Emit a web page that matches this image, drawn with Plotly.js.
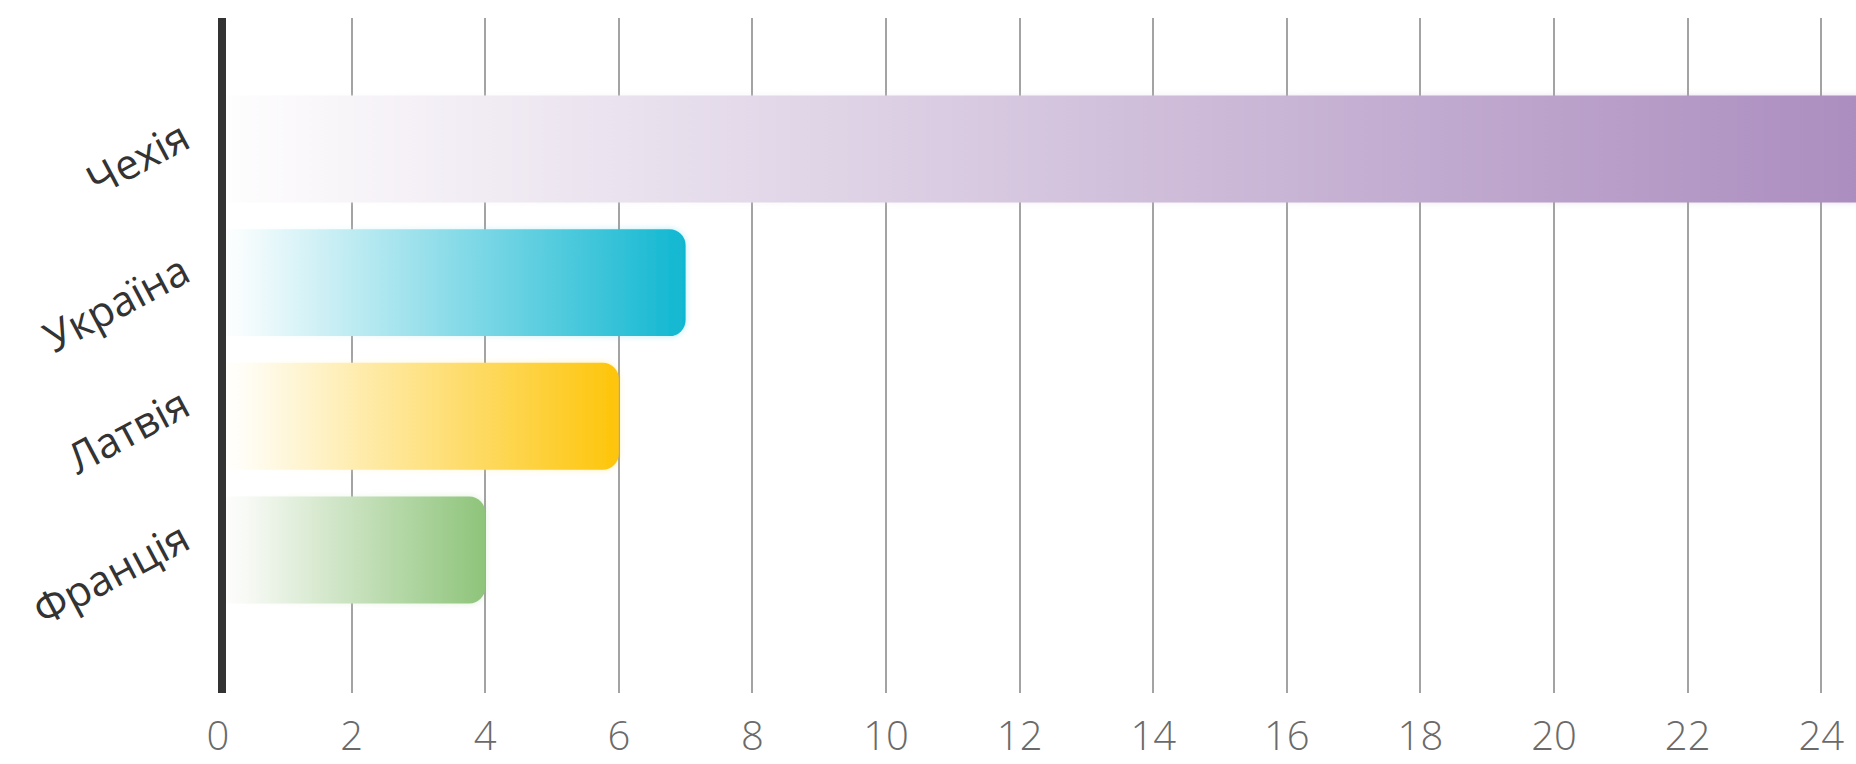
<!DOCTYPE html>
<html>
<head>
<meta charset="utf-8">
<script src="https://cdn.plot.ly/plotly-3.0.1.min.js"></script>
<style>
  html, body { margin: 0; padding: 0; background: #ffffff; }
  #chart { width: 1856px; height: 764px; }
</style>
</head>
<body>
<div id="chart"></div>
<script>
// ---- data ----
const countries = ['Чехія', 'Україна', 'Латвія', 'Франція'];
const values = [25, 7, 6, 4];
const barColors = ['#aa8bbe', '#10b7d1', '#fdc50a', '#8ec47a'];
const barStartColors = ['#fdfcfd', '#f6fcfd', '#fffdf5', '#f8faf6'];
const xTickVals = [0, 2, 4, 6, 8, 10, 12, 14, 16, 18, 20, 22, 24];
const xTickText = ['0', '2', '4', '6', '8', '10', '12', '14', '16', '18', '20', '22', '24'];

const trace = {
  type: 'bar',
  orientation: 'h',
  y: countries,
  x: values,
  width: 0.8,
  marker: { color: barColors, cornerradius: 16, line: { width: 0 } },
  hoverinfo: 'none',
  cliponaxis: true
};

const layout = {
  width: 1856,
  height: 764,
  margin: { l: 218, r: 0, t: 18, b: 71, pad: 0 },
  paper_bgcolor: '#ffffff',
  plot_bgcolor: '#ffffff',
  showlegend: false,
  bargap: 0.2,
  xaxis: {
    range: [0, 24.52],
    tickmode: 'array',
    tickvals: xTickVals,
    ticktext: xTickText,
    showgrid: true,
    gridcolor: '#a3a3a3',
    gridwidth: 2,
    zeroline: false,
    showline: false,
    ticks: '',
    ticklabelstandoff: 16,
    tickfont: { family: 'Open Sans, Lato, sans-serif', size: 40, color: '#6a6a6a', weight: 300 },
    fixedrange: true
  },
  yaxis: {
    type: 'category',
    categoryorder: 'array',
    categoryarray: countries,
    range: [4.07, -0.98],
    showgrid: false,
    zeroline: false,
    showline: false,
    ticks: '',
    tickangle: -28,
    ticklabelstandoff: 34,
    ticklabelshift: 15,
    tickfont: { family: 'Open Sans, Lato, sans-serif', size: 42, color: '#333333' },
    fixedrange: true
  },
  shapes: [{
    type: 'rect',
    layer: 'above',
    xref: 'x', xsizemode: 'pixel', xanchor: 0, x0: 0, x1: 8,
    yref: 'paper', y0: 0, y1: 1,
    fillcolor: '#333333',
    line: { width: 0 }
  }]
};

Plotly.newPlot('chart', [trace], layout, { staticPlot: true, displayModeBar: false }).then(function (gd) {
  const svg = gd.querySelector('.main-svg');
  let defs = svg.querySelector('defs');
  const ns = 'http://www.w3.org/2000/svg';
  if (!defs) { defs = document.createElementNS(ns, 'defs'); svg.insertBefore(defs, svg.firstChild); }
  // soft glow filter
  const filt = document.createElementNS(ns, 'filter');
  filt.setAttribute('id', 'barGlow');
  filt.setAttribute('x', '-5%'); filt.setAttribute('y', '-20%');
  filt.setAttribute('width', '110%'); filt.setAttribute('height', '140%');
  filt.innerHTML = '<feGaussianBlur in="SourceGraphic" stdDeviation="3" result="b"/>' +
    '<feComponentTransfer in="b" result="bb"><feFuncA type="linear" slope="0.3"/></feComponentTransfer>' +
    '<feMerge><feMergeNode in="bb"/><feMergeNode in="SourceGraphic"/></feMerge>';
  defs.appendChild(filt);
  const paths = gd.querySelectorAll('.barlayer .point path');
  paths.forEach(function (p, i) {
    const w = Math.max(1, p.getBBox().width);
    const fadeOff = Math.min(0.2, 26 / w);
    const g = document.createElementNS(ns, 'linearGradient');
    g.setAttribute('id', 'barGrad' + i);
    g.setAttribute('x1', '0'); g.setAttribute('y1', '0');
    g.setAttribute('x2', '1'); g.setAttribute('y2', '0');
    const stops = [[0, '#ffffff'], [fadeOff, barStartColors[i]], [1, barColors[i]]];
    stops.forEach(function (s) {
      const st = document.createElementNS(ns, 'stop');
      st.setAttribute('offset', String(s[0]));
      st.setAttribute('stop-color', s[1]);
      g.appendChild(st);
    });
    defs.appendChild(g);
    p.style.fill = 'url(#barGrad' + i + ')';
    p.style.fillOpacity = '1';
    p.setAttribute('filter', 'url(#barGlow)');
  });
});
</script>
</body>
</html>
